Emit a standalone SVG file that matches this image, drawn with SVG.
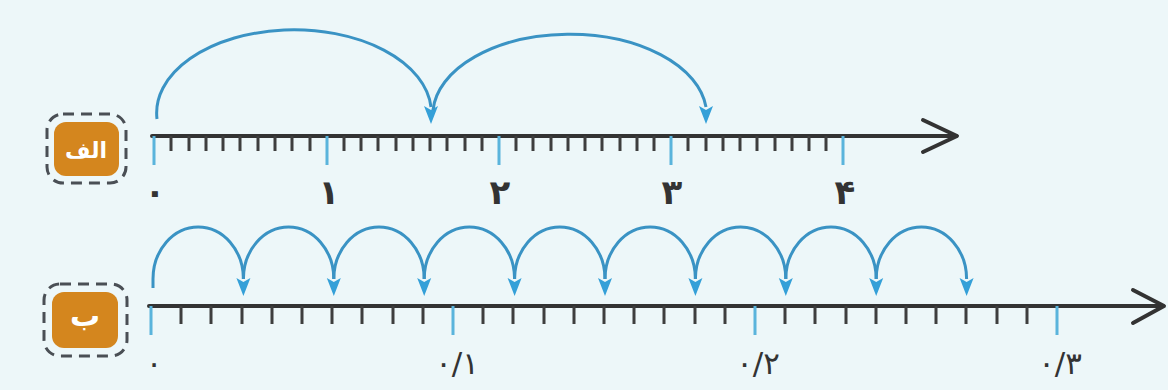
<svg xmlns="http://www.w3.org/2000/svg" width="1168" height="390" viewBox="0 0 1168 390">
<style>
.axis{stroke:#333;stroke-width:4;fill:none;stroke-linecap:round;stroke-linejoin:round}
.minor{stroke:#3e3e3e;stroke-width:3}
.major{stroke:#5ab4dc;stroke-width:3}
.jump{stroke:#3a93c4;stroke-width:3;fill:none}
.head{fill:#35a0d8}
.num{font-family:"DejaVu Sans",sans-serif;font-size:34px;font-weight:bold;fill:#333;text-anchor:middle}
.numb{font-family:"DejaVu Sans",sans-serif;font-size:31px;fill:#333;text-anchor:middle}
.badge{fill:#d4861e}
.badgeline{fill:none;stroke:#4a4f55;stroke-width:3;stroke-dasharray:11 7}
.blabel{font-family:"DejaVu Sans",sans-serif;font-weight:bold;fill:#fff;text-anchor:middle}
</style>
<defs>
<path id="ah" d="M -7 -18 L 0 -14 L 7 -18 L 0 0 Z"/>
</defs>
<rect width="1168" height="390" fill="#edf7f9"/>

<g id="badgeA">
<rect class="badge" x="54" y="122" width="65" height="54" rx="12"/>
<rect class="badgeline" x="47" y="114" width="79" height="69" rx="16"/>
<text class="blabel" x="86" y="158" font-size="22">الف</text>
</g>
<g id="badgeB">
<rect class="badge" x="52" y="292" width="66" height="56" rx="12"/>
<rect class="badgeline" x="44" y="284" width="83" height="72" rx="16"/>
<text class="blabel" x="85" y="326" font-size="30">ب</text>
</g>

<g id="lineA">
<line class="axis" x1="152" y1="136" x2="956" y2="136"/>
<polyline class="axis" points="923,120 957,136 923,152"/>
<g class="minor">
<path d="M171 136V151M189 136V151M206 136V151M223 136V151M240 136V151M258 136V151M275 136V151M292 136V151M310 136V151
M344 136V151M361 136V151M378 136V151M396 136V151M413 136V151M430 136V151M447 136V151M465 136V151M482 136V151
M516 136V151M533 136V151M551 136V151M568 136V151M585 136V151M602 136V151M620 136V151M637 136V151M654 136V151
M688 136V151M706 136V151M723 136V151M740 136V151M757 136V151M775 136V151M792 136V151M809 136V151M826 136V151"/>
</g>
<g class="major">
<path d="M154 136V165M327 136V165M499 136V165M671 136V165M843 136V165"/>
</g>
<text class="num" x="155" y="204">۰</text>
<text class="num" x="329" y="204">۱</text>
<text class="num" x="500" y="204">۲</text>
<text class="num" x="672" y="204">۳</text>
<text class="num" x="845" y="204">۴</text>
</g>

<g id="lineB">
<line class="axis" x1="149" y1="306" x2="1162" y2="306"/>
<polyline class="axis" points="1133,290 1164,306 1133,323"/>
<g class="minor">
<path d="M181 306V324M211 306V324M242 306V324M272 306V324M302 306V324M332 306V324M362 306V324M393 306V324M423 306V324
M483 306V324M513 306V324M544 306V324M574 306V324M604 306V324M634 306V324M664 306V324M695 306V324M725 306V324
M785 306V324M815 306V324M846 306V324M876 306V324M906 306V324M936 306V324M966 306V324M997 306V324M1027 306V324"/>
</g>
<g class="major">
<path d="M151 306V335M453 306V335M755 306V335M1057 306V335"/>
</g>
<text class="numb" x="154" y="374">۰</text>
<text class="numb" x="457" y="374">۰/۱</text>
<text class="numb" x="758" y="374">۰/۲</text>
<text class="numb" x="1060" y="374">۰/۳</text>
</g>

<g id="connectors">
<path class="jump" d="M157 119 A137 83 0 0 1 431 107"/>
<use href="#ah" class="head" x="431" y="124"/>
<path class="jump" d="M433 110 A137 81 0 0 1 706 107"/>
<use href="#ah" class="head" x="706" y="124"/>

<path class="jump" d="M153 288 L153 279 A45.2 52 0 0 1 243.4 279"/>
<path class="jump" d="M243.4 279 A45.2 52 0 0 1 333.8 279"/>
<path class="jump" d="M333.8 279 A45.2 52 0 0 1 424.2 279"/>
<path class="jump" d="M424.2 279 A45.2 52 0 0 1 514.6 279"/>
<path class="jump" d="M514.6 279 A45.2 52 0 0 1 605 279"/>
<path class="jump" d="M605 279 A45.2 52 0 0 1 695.4 279"/>
<path class="jump" d="M695.4 279 A45.2 52 0 0 1 785.8 279"/>
<path class="jump" d="M785.8 279 A45.2 52 0 0 1 876.2 279"/>
<path class="jump" d="M876.2 279 A45.2 52 0 0 1 966.6 279"/>
<use href="#ah" class="head" x="243.4" y="296"/>
<use href="#ah" class="head" x="333.8" y="296"/>
<use href="#ah" class="head" x="424.2" y="296"/>
<use href="#ah" class="head" x="514.6" y="296"/>
<use href="#ah" class="head" x="605" y="296"/>
<use href="#ah" class="head" x="695.4" y="296"/>
<use href="#ah" class="head" x="785.8" y="296"/>
<use href="#ah" class="head" x="876.2" y="296"/>
<use href="#ah" class="head" x="966.6" y="296"/>
</g>
</svg>
